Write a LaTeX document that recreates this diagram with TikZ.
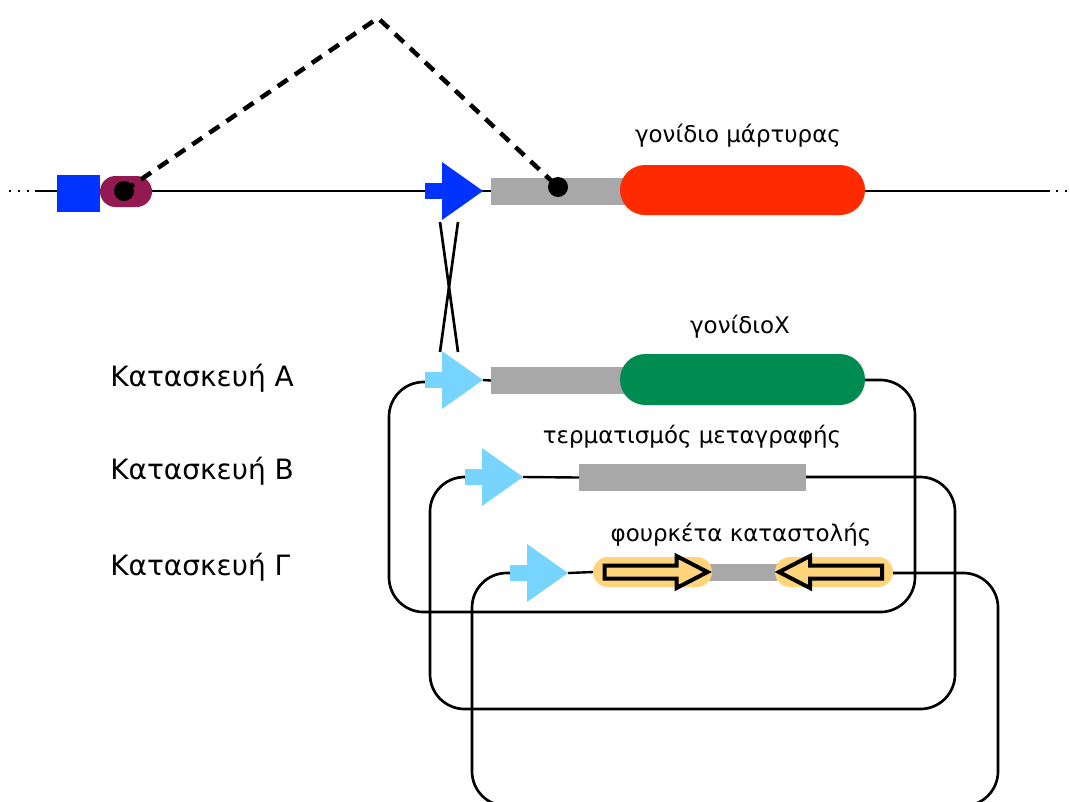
\documentclass[tikz,border=0pt]{standalone}
\usepackage{fontspec}
\setmainfont{DejaVu Sans}
\definecolor{promblue}{HTML}{0033FF}
\definecolor{promlight}{HTML}{77D4FF}
\definecolor{maroon}{HTML}{931A50}
\definecolor{bargray}{HTML}{A8A8A8}
\definecolor{reporter}{HTML}{FF2A00}
\definecolor{genex}{HTML}{008C50}
\definecolor{hairpin}{HTML}{FFD47A}
\tikzset{
  dna/.style={line width=1.8pt},
  loopline/.style={line width=2pt, rounded corners=26pt},
  block/.style={inner sep=0pt, draw=none, outer sep=0pt},
  toplabel/.style={font=\fontsize{17.2}{19}\selectfont, anchor=center},
  rowlabel/.style={font=\fontsize{21}{24}\selectfont, anchor=west, inner sep=0pt},
  dotdash/.style={line width=3.4pt, dash pattern=on 9pt off 6.5pt},
  endmark/.style={line width=1.6pt, dash pattern=on 1.6pt off 5pt},
  promoter/.pic={
    \fill[#1] (0,-8) rectangle (17.5,8);
    \fill[#1] (17,-29) -- (58,0) -- (17,29) -- cycle;
    \coordinate (-base) at (0,0);
    \coordinate (-tip) at (58,0);
  },
  arm/.pic={
    \draw[line width=3pt, fill=hairpin, line join=miter, miter limit=4]
      (-48,-6.5) -- (24,-6.5) -- (24,-16) -- (55,0) -- (24,16)
      -- (24,6.5) -- (-48,6.5) -- cycle;
  }
}
\begin{document}
\begin{tikzpicture}[x=0.75pt, y=-0.75pt]
\useasboundingbox (0,0) rectangle (1070,801);
\clip (0,0) rectangle (1070,801);

% ---------- genomic locus ----------
\coordinate (lend) at (38,191);
\coordinate (rend) at (1050,191);
\coordinate (ldots) at (9,191);
\coordinate (rdots) at (1056,191);
\coordinate (rlast) at (1070,191);
\draw[endmark] (ldots) -- (lend);
\draw[endmark] (rdots) -- (rlast);
\draw[dna] (lend) -- (rend);

\node[block, fill=promblue, minimum width=32.25pt, minimum height=27.75pt]
  (sq) at (78.5,193.5) {};
\node[block, fill=maroon, minimum width=39pt, minimum height=23.25pt,
  rounded corners=11.6pt] (mp) at (126,191.5) {};

\pic (pT) at (425,191) {promoter=promblue};
\node[block, fill=bargray, minimum width=100.5pt, minimum height=20.25pt]
  (gT) at (558,191.5) {};
\node[block, fill=reporter, minimum width=183.75pt, minimum height=37.5pt,
  rounded corners=18.75pt] (rep) at (742.5,190) {};
\node[toplabel] (repl) at (738,136) {γονίδιο μάρτυρας};

% excision: dashed bridge between the two marked sites
\coordinate (apex) at (378,18);
\node[circle, fill=black, inner sep=0pt, minimum size=15pt] (s1) at (124,191) {};
\node[circle, fill=black, inner sep=0pt, minimum size=15pt] (s2) at (558,187) {};
\draw[dotdash] (s1.center) -- (apex) -- (s2.center);

% crossover between locus and construct
\coordinate (c1) at (440,222);
\coordinate (c2) at (458,222);
\coordinate (c3) at (440,352);
\coordinate (c4) at (458,352);
\draw[line width=2pt] (c1) -- (c4);
\draw[line width=2pt] (c2) -- (c3);

% ---------- construct A ----------
\node[rowlabel] (la) at (110,378) {Κατασκευή Α};
\draw[loopline] (620,380) -| (915,612) -| (389,382) -- (440,382);
\pic (pA) at (425,380) {promoter=promlight};
\node[block, fill=bargray, minimum width=100.5pt, minimum height=20.25pt]
  (gA) at (558,380.5) {};
\draw[dna] (pA-tip) -- (gA.west);
\node[block, fill=genex, minimum width=183.75pt, minimum height=38.25pt,
  rounded corners=19pt] (gx) at (742.5,379.5) {};
\node[toplabel] (gxl) at (740,327) {γονίδιοX};

% ---------- construct B ----------
\node[rowlabel] (lb) at (110,471) {Κατασκευή Β};
\draw[loopline] (806,477) -| (955,709) -| (430,477) -- (480,477);
\pic (pB) at (465,477) {promoter=promlight};
\node[block, fill=bargray, minimum width=170.25pt, minimum height=20.25pt]
  (term) at (692.5,477.5) {};
\draw[dna] (pB-tip) -- (term.west);
\node[toplabel] (terml) at (692,437) {τερματισμός μεταγραφής};

% ---------- construct Γ ----------
\node[rowlabel] (lg) at (110,567) {Κατασκευή Γ};
\draw[loopline] (860,573) -| (998,806) -| (472,573) -- (520,573);
\pic (pG) at (510,573) {promoter=promlight};
\node[block, fill=bargray, minimum width=51pt, minimum height=12.75pt]
  (loopbar) at (743,572) {};
\node[block, fill=hairpin, minimum width=89.25pt, minimum height=22.5pt,
  rounded corners=11.25pt] (h1) at (652.5,572) {};
\node[block, fill=hairpin, minimum width=88.5pt, minimum height=22.5pt,
  rounded corners=11.25pt] (h2) at (834,572) {};
\draw[dna] (pG-tip) -- (h1.west);
\pic at (h1.center) {arm};
\pic[xscale=-1] at (h2.center) {arm};
\node[toplabel] (hl) at (741,535) {φουρκέτα καταστολής};
\end{tikzpicture}
\end{document}
